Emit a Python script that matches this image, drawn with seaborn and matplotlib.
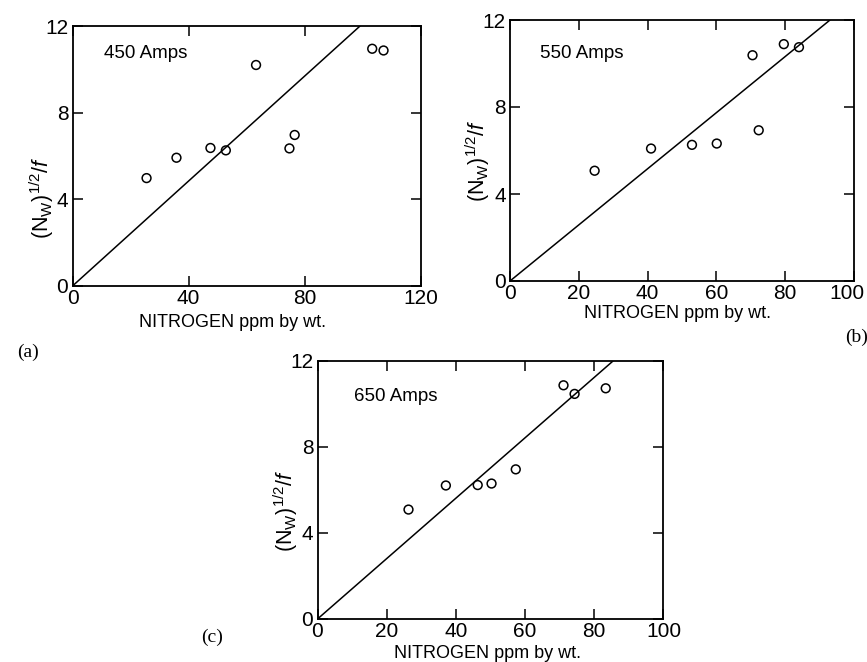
import matplotlib
matplotlib.use("Agg")
import matplotlib.pyplot as plt
import matplotlib.transforms as mtransforms
from matplotlib import font_manager
import seaborn as sns
import numpy as np
import pandas as pd

# Nitrogen content (ppm by wt.) and (N_W)^1/2 / f for each welding current
n_450 = [25.5, 35.8, 47.5, 52.8, 63.2, 74.7, 76.5, 103.2, 107.1]
v_450 = [4.98, 5.92, 6.37, 6.26, 10.2, 6.35, 6.97, 10.95, 10.87]

n_550 = [24.6, 41.0, 52.9, 60.1, 70.5, 72.3, 79.6, 84.0]
v_550 = [5.07, 6.09, 6.26, 6.32, 10.38, 6.93, 10.89, 10.75]

n_650 = [26.3, 37.1, 46.3, 50.3, 57.3, 71.1, 74.3, 83.3]
v_650 = [5.09, 6.21, 6.23, 6.30, 6.96, 10.87, 10.47, 10.73]

# Straight line through the origin: slope and the x where it stops
fit_slope = [0.1212, 0.129, 0.1405]
fit_end = [99.0, 93.0, 85.4]

currents = ["450 Amps", "550 Amps", "650 Amps"]
x_limits = [120, 100, 100]
x_ticks = [[0, 40, 80, 120], [0, 20, 40, 60, 80, 100], [0, 20, 40, 60, 80, 100]]
y_ticks = [0, 4, 8, 12]
panel_tags = ["(a)", "(b)", "(c)"]

sns.set_theme(style="ticks")
plt.rcParams["font.family"] = ["Liberation Sans", "DejaVu Sans"]
plt.rcParams["mathtext.fontset"] = "custom"
plt.rcParams["mathtext.rm"] = "Liberation Sans"
plt.rcParams["mathtext.it"] = "Liberation Sans:italic"

installed = {f.name for f in font_manager.fontManager.ttflist}
tick_family = "Liberation Sans Narrow" if "Liberation Sans Narrow" in installed else "Liberation Sans"

fig = plt.figure(figsize=(8.67, 6.62), dpi=100)
fig.patch.set_facecolor("white")

W, H = 867.0, 662.0
# axes boxes in pixels: left, top, right, bottom
boxes = [(72.5, 26, 421, 286), (510, 20, 854, 281), (317.5, 361, 663.5, 619)]
ylab_pos = [(-0.088, 0.34), (-0.095, 0.46), (-0.092, 0.42)]
xlab_off = [(0.46, 37), (0.486, 32), (0.49, 35)]
text_pos = [(10.8, 10.75), (8.7, 10.45), (10.5, 10.33)]

series = [(n_450, v_450), (n_550, v_550), (n_650, v_650)]

for i, (l, t, r, b) in enumerate(boxes):
    ax = fig.add_axes([l / W, (H - b) / H, (r - l) / W, (b - t) / H])
    ax.set_facecolor("white")
    xs, ys = series[i]
    df = pd.DataFrame({"N": xs, "V": ys})
    sns.scatterplot(data=df, x="N", y="V", ax=ax, marker="o", s=40,
                    facecolors="none", edgecolor="black", linewidth=1.1,
                    zorder=3)
    line_x = np.array([0.0, fit_end[i]])
    line_df = pd.DataFrame({"N": line_x, "V": fit_slope[i] * line_x})
    sns.lineplot(data=line_df, x="N", y="V", ax=ax, color="black",
                 linewidth=1.1, zorder=2)

    ax.set_xlim(0, x_limits[i])
    ax.set_ylim(0, 12)
    ax.set_xticks(x_ticks[i])
    ax.set_yticks(y_ticks)
    ax.set_xticklabels([str(v) for v in x_ticks[i]])
    ax.set_yticklabels([str(v) for v in y_ticks])
    ax.tick_params(direction="in", length=7, width=1.1, colors="black",
                   labelsize=15, top=True, right=True)
    ax.tick_params(axis="x", pad=2)
    ax.tick_params(axis="y", pad=3)
    for lab in ax.get_xticklabels() + ax.get_yticklabels():
        lab.set_family(tick_family)
    if i == 1:
        last = ax.get_xticklabels()[-1]
        last.set_transform(last.get_transform() + mtransforms.ScaledTranslation(
            -7 / 100, 0, fig.dpi_scale_trans))
    for sp in ax.spines.values():
        sp.set_visible(True)
        sp.set_color("black")
        sp.set_linewidth(1.3)
    ax.set_xlabel("")
    ax.set_ylabel("")
    ax.grid(False)

    ax.text(text_pos[i][0], text_pos[i][1], currents[i], fontsize=13.5,
            ha="left", va="center", color="black")
    ax.text(ylab_pos[i][0], ylab_pos[i][1],
            r"$(\mathregular{N_W})^{\mathregular{1/2}}/\mathit{f}$",
            rotation=90, ha="center", va="center", fontsize=15.5,
            transform=ax.transAxes, color="black")
    xf, off = xlab_off[i]
    ax.text(xf, -off / (b - t), "NITROGEN ppm by wt.", ha="center",
            va="center", fontsize=13, transform=ax.transAxes,
            color="black")

# panel tags
tag_px = [(28, 352), (857, 337), (212, 637)]
for tag, (px, py) in zip(panel_tags, tag_px):
    fig.text(px / W, (H - py) / H, tag, ha="center", va="center",
             fontsize=14, family="Liberation Serif", color="black")

fig.savefig("out.png", dpi=100, facecolor="white")
